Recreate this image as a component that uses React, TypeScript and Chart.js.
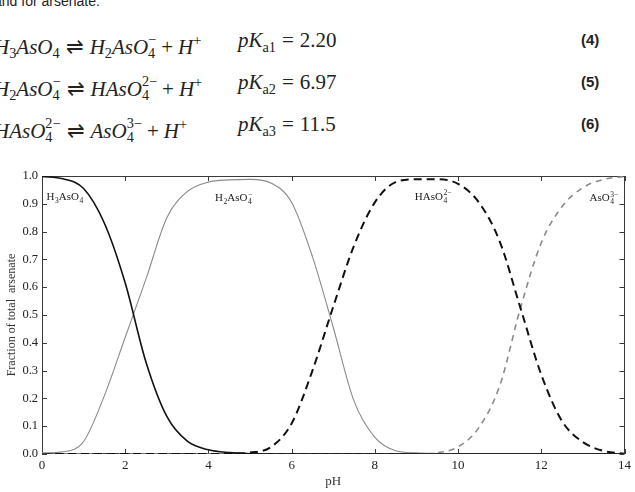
import React, { useEffect, useRef } from 'react';
import { Chart, registerables } from 'chart.js';

Chart.register(...registerables);

// ---------- data ----------
const PH = [0, 0.5, 1, 1.5, 2, 2.5, 3, 3.5, 4, 4.5, 5, 5.5, 6, 6.5, 7, 7.5, 8, 8.5, 9, 9.5, 10, 10.5, 11, 11.5, 12, 12.5, 13, 13.5, 14];
const H3ASO4 = [0.998, 0.99, 0.955, 0.83, 0.615, 0.33, 0.135, 0.045, 0.015, 0.005, 0.001, 0, 0, 0, 0, 0, 0, 0, 0, 0, 0, 0, 0, 0, 0, 0, 0, 0, 0];
const H2ASO4 = [0.004, 0.008, 0.045, 0.21, 0.42, 0.63, 0.85, 0.945, 0.978, 0.986, 0.988, 0.975, 0.905, 0.71, 0.455, 0.19, 0.06, 0.012, 0.004, 0.002, 0.001, 0, 0, 0, 0, 0, 0, 0, 0];
const HASO4 = [0, 0, 0, 0, 0, 0, 0, 0, 0, 0.001, 0.005, 0.025, 0.11, 0.3, 0.53, 0.75, 0.905, 0.978, 0.988, 0.988, 0.972, 0.905, 0.765, 0.525, 0.285, 0.118, 0.043, 0.011, 0.001];
const ASO4 = [0, 0, 0, 0, 0, 0, 0, 0, 0, 0, 0, 0, 0, 0, 0, 0, 0, 0, 0, 0.004, 0.026, 0.095, 0.245, 0.525, 0.76, 0.89, 0.958, 0.988, 0.998];
const X_TICKS = [0, 2, 4, 6, 8, 10, 12, 14];
const Y_TICKS = [0, 0.1, 0.2, 0.3, 0.4, 0.5, 0.6, 0.7, 0.8, 0.9, 1.0];
const X_TITLE = 'pH';
const Y_TITLE = 'Fraction of total  arsenate';

type Piece = { t: string; sub?: string; sup?: string };
const SPECIES_LABELS: { x: number; y: number; pieces: Piece[] }[] = [
  { x: 0.11, y: 0.914, pieces: [{ t: 'H', sub: '3' }, { t: 'AsO', sub: '4' }] },
  { x: 4.16, y: 0.91, pieces: [{ t: 'H', sub: '2' }, { t: 'AsO', sub: '4', sup: '−' }] },
  { x: 8.96, y: 0.914, pieces: [{ t: 'HAsO', sub: '4', sup: '2−' }] },
  { x: 13.16, y: 0.91, pieces: [{ t: 'AsO', sub: '4', sup: '3−' }] },
];

const SERIF = '"Liberation Serif", "Times New Roman", serif';

const framePlugin = {
  id: 'frameTicks',
  beforeDatasetsDraw(chart: any) {
    const { ctx, chartArea: a, scales } = chart;
    const xs = scales.x;
    const ys = scales.y;
    ctx.save();
    ctx.strokeStyle = '#3a3a3a';
    ctx.lineWidth = 1;
    ctx.strokeRect(Math.round(a.left) + 0.5, Math.round(a.top) + 0.5, Math.round(a.right - a.left) - 1, Math.round(a.bottom - a.top) - 1);
    ctx.beginPath();
    for (const v of X_TICKS) {
      const px = Math.round(xs.getPixelForValue(v)) + 0.5;
      ctx.moveTo(px, a.bottom);
      ctx.lineTo(px, a.bottom - 5);
      ctx.moveTo(px, a.top);
      ctx.lineTo(px, a.top + 5);
    }
    for (const v of Y_TICKS) {
      const py = Math.round(ys.getPixelForValue(v)) + 0.5;
      ctx.moveTo(a.left, py);
      ctx.lineTo(a.left + 5, py);
      ctx.moveTo(a.right, py);
      ctx.lineTo(a.right - 5, py);
    }
    ctx.stroke();
    ctx.restore();
  },
  afterDatasetsDraw(chart: any) {
    const { ctx, scales } = chart;
    ctx.save();
    ctx.fillStyle = '#222';
    ctx.textBaseline = 'alphabetic';
    ctx.textAlign = 'left';
    for (const lab of SPECIES_LABELS) {
      let px = scales.x.getPixelForValue(lab.x);
      const py = scales.y.getPixelForValue(lab.y);
      for (const p of lab.pieces) {
        ctx.font = `11px ${SERIF}`;
        ctx.fillText(p.t, px, py);
        px += ctx.measureText(p.t).width;
        ctx.font = `7.5px ${SERIF}`;
        let w = 0;
        if (p.sub) {
          ctx.fillText(p.sub, px + 0.5, py + 3);
          w = Math.max(w, ctx.measureText(p.sub).width);
        }
        if (p.sup) {
          ctx.fillText(p.sup, px + 0.5, py - 4.5);
          w = Math.max(w, ctx.measureText(p.sup).width);
        }
        px += w + 0.5;
      }
    }
    ctx.restore();
  },
};

const Sub = ({ c }: { c: string }) => (
  <span style={{ fontSize: '0.68em', verticalAlign: '-0.32em', fontStyle: 'normal' }}>{c}</span>
);
const Sup = ({ c }: { c: string }) => (
  <span style={{ fontSize: '0.68em', verticalAlign: '0.6em', fontStyle: 'normal' }}>{c}</span>
);
const SS = ({ sub, sup }: { sub: string; sup: string }) => (
  <span style={{ display: 'inline-block', fontSize: '0.68em', lineHeight: 1, verticalAlign: '-0.32em', fontStyle: 'normal', textAlign: 'left' }}>
    <span style={{ display: 'block' }}>{sup}</span>
    <span style={{ display: 'block' }}>{sub}</span>
  </span>
);
const Op = ({ c, pad }: { c: string; pad: number }) => (
  <span style={{ fontStyle: 'normal', padding: `0 ${pad}px` }}>{c}</span>
);

const rowStyle = (cy: number): React.CSSProperties => ({
  position: 'absolute',
  top: cy - 13,
  height: 26,
  lineHeight: '26px',
  whiteSpace: 'nowrap',
  fontFamily: SERIF,
  fontStyle: 'italic',
  fontSize: 21,
  color: '#222',
});
const numStyle = (cy: number): React.CSSProperties => ({
  position: 'absolute',
  top: cy - 13,
  height: 26,
  lineHeight: '26px',
  left: 581,
  fontFamily: '"Liberation Sans", Arial, sans-serif',
  fontWeight: 'bold',
  fontSize: 15,
  color: '#222',
});

const ROW_Y = [40, 82, 124];
const PK_LEFT = 238;

export default function App() {
  const ref = useRef<HTMLCanvasElement>(null);
  useEffect(() => {
    const mk = (vals: number[]) => PH.map((x, i) => ({ x, y: vals[i] }));
    const chart = new Chart(ref.current as HTMLCanvasElement, {
      type: 'line',
      data: {
        datasets: [
          { label: 'H3AsO4', data: mk(H3ASO4), borderColor: '#111', borderWidth: 1.6, pointRadius: 0, cubicInterpolationMode: 'monotone' },
          { label: 'H2AsO4-', data: mk(H2ASO4), borderColor: '#8a8a8a', borderWidth: 1.1, pointRadius: 0, cubicInterpolationMode: 'monotone' },
          { label: 'HAsO4 2-', data: mk(HASO4), borderColor: '#111', borderWidth: 2, borderDash: [8, 5], pointRadius: 0, cubicInterpolationMode: 'monotone' },
          { label: 'AsO4 3-', data: mk(ASO4), borderColor: '#8a8a8a', borderWidth: 1.6, borderDash: [6, 5], pointRadius: 0, cubicInterpolationMode: 'monotone' },
        ],
      },
      options: {
        animation: false,
        responsive: true,
        maintainAspectRatio: false,
        devicePixelRatio: 1,
        layout: { padding: { top: 16, right: 7, left: 0, bottom: 0 } },
        plugins: { legend: { display: false }, tooltip: { enabled: false } },
        scales: {
          x: {
            type: 'linear',
            min: 0,
            max: 14,
            grid: { display: false, drawTicks: false },
            border: { display: false },
            ticks: { stepSize: 2, autoSkip: false, maxRotation: 0, padding: 4, color: '#222', font: { family: SERIF, size: 13 } },
            title: { display: true, text: X_TITLE, color: '#333', font: { family: SERIF, size: 13 }, padding: { top: 0, bottom: 3 } },
            afterFit: (s: any) => { s.height = 38; },
          },
          y: {
            type: 'linear',
            min: 0,
            max: 1,
            grid: { display: false, drawTicks: false },
            border: { display: false },
            ticks: { stepSize: 0.1, padding: 4, color: '#222', font: { family: SERIF, size: 12.5 }, callback: (v: any) => Number(v).toFixed(1) },
            title: { display: true, text: Y_TITLE, color: '#333', font: { family: SERIF, size: 12 }, padding: { top: 5, bottom: 0 } },
            afterFit: (s: any) => { s.width = 42; },
          },
        },
      } as any,
      plugins: [framePlugin],
    });
    return () => chart.destroy();
  }, []);

  return (
    <div style={{ position: 'fixed', left: 0, top: 0, width: 635, height: 492, background: '#fff', overflow: 'hidden' }}>
      <div style={{ position: 'absolute', left: -6, top: -8, fontFamily: '"Liberation Sans", Arial, sans-serif', fontSize: 14, color: '#222', whiteSpace: 'nowrap', lineHeight: '18px' }}>
        and for arsenate:
      </div>

      <div style={{ ...rowStyle(ROW_Y[0]), left: -6 }}>
        H<Sub c="3" />AsO<Sub c="4" /><Op c="⇌" pad={6} />H<Sub c="2" />AsO<SS sub="4" sup="−" /><Op c="+" pad={5} />H<Sup c="+" />
      </div>
      <div style={{ ...rowStyle(ROW_Y[0]), left: PK_LEFT }}>
        pK<Sub c="a1" /><Op c="=" pad={6} /><span style={{ fontStyle: 'normal' }}>2.20</span>
      </div>
      <div style={numStyle(ROW_Y[0])}>(4)</div>

      <div style={{ ...rowStyle(ROW_Y[1]), left: -6 }}>
        H<Sub c="2" />AsO<SS sub="4" sup="−" /><Op c="⇌" pad={6} />HAsO<SS sub="4" sup="2−" /><Op c="+" pad={5} />H<Sup c="+" />
      </div>
      <div style={{ ...rowStyle(ROW_Y[1]), left: PK_LEFT }}>
        pK<Sub c="a2" /><Op c="=" pad={6} /><span style={{ fontStyle: 'normal' }}>6.97</span>
      </div>
      <div style={numStyle(ROW_Y[1])}>(5)</div>

      <div style={{ ...rowStyle(ROW_Y[2]), left: -6 }}>
        HAsO<SS sub="4" sup="2−" /><Op c="⇌" pad={6} />AsO<SS sub="4" sup="3−" /><Op c="+" pad={5} />H<Sup c="+" />
      </div>
      <div style={{ ...rowStyle(ROW_Y[2]), left: PK_LEFT }}>
        pK<Sub c="a3" /><Op c="=" pad={6} /><span style={{ fontStyle: 'normal' }}>11.5</span>
      </div>
      <div style={numStyle(ROW_Y[2])}>(6)</div>

      <div style={{ position: 'absolute', left: 0, top: 160, width: 635, height: 332 }}>
        <canvas ref={ref} />
      </div>
    </div>
  );
}
